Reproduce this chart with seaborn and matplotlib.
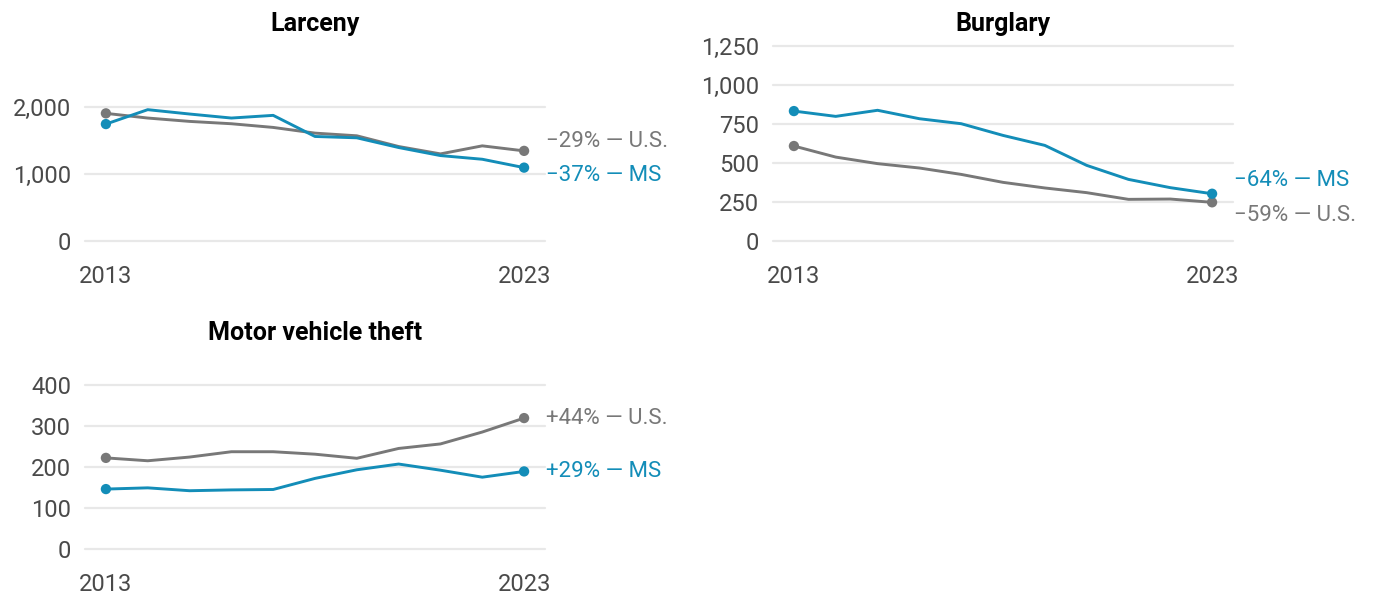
import matplotlib.pyplot as plt
import numpy as np
import pandas as pd
import seaborn as sns

years = list(range(2013, 2024))

# rates per 100,000
larceny_ms = [1745, 1960, 1895, 1835, 1875, 1560, 1540, 1395, 1275, 1220, 1095]
larceny_us = [1905, 1835, 1785, 1750, 1695, 1610, 1570, 1410, 1300, 1420, 1345]
burglary_ms = [833, 799, 838, 784, 752, 677, 613, 485, 395, 342, 303]
burglary_us = [609, 538, 496, 468, 427, 376, 340, 310, 267, 269, 248]
motor_ms = [146, 149, 142, 144, 145, 172, 193, 207, 192, 175, 189]
motor_us = [222, 215, 224, 237, 237, 231, 221, 245, 256, 285, 319]

larceny_ticks = [0, 1000, 2000]
burglary_ticks = [0, 250, 500, 750, 1000, 1250]
motor_ticks = [0, 100, 200, 300, 400]

sns.set_theme(style="white")
plt.rcParams['font.family'] = ['Roboto', 'DejaVu Sans']

BLUE = "#138db8"
GRAY = "#787878"
W, H = 1377, 595

def px_rect(x0, y0, x1, y1):
    return [x0 / W, 1 - y1 / H, (x1 - x0) / W, (y1 - y0) / H]

fig = plt.figure(figsize=(W / 100, H / 100), dpi=100)

# title, ms, us, ticks, ymax, rect, (nudge ms, nudge us) in pixels
panels = [
    ("Larceny", larceny_ms, larceny_us, larceny_ticks, 2940, (85, 44, 545, 241), (-8, 9)),
    ("Burglary", burglary_ms, burglary_us, burglary_ticks, 1263, (773, 44, 1233, 241), (13, -13)),
    ("Motor vehicle theft", motor_ms, motor_us, motor_ticks, 480, (85, 352, 545, 549), (0, 0)),
]

for title, ms, us, ticks, ymax, rect, nudge in panels:
    ax = fig.add_axes(px_rect(*rect))
    df = pd.DataFrame({"year": years * 2, "rate": us + ms,
                       "area": ["U.S."] * len(years) + ["MS"] * len(years)})
    sns.lineplot(data=df, x="year", y="rate", hue="area",
                 palette={"U.S.": GRAY, "MS": BLUE}, linewidth=2.1,
                 legend=False, ax=ax, zorder=3)
    ends = df[df["year"].isin([years[0], years[-1]])]
    sns.scatterplot(data=ends, x="year", y="rate", hue="area",
                    palette={"U.S.": GRAY, "MS": BLUE}, s=55, linewidth=0,
                    legend=False, ax=ax, zorder=4)

    ax.set_xlim(2012.5, 2023.5)
    ax.set_ylim(0, ymax)
    ax.set_yticks(ticks)
    ax.set_yticklabels([f"{t:,}" for t in ticks])
    ax.set_xticks([2013, 2023])
    ax.set_xticklabels(["2013", "2023"])
    ax.grid(axis="y", color="#e8e8e8", linewidth=1.6)
    for gl in ax.get_ygridlines():
        gl.set_clip_on(False)
    ax.set_axisbelow(True)
    for sp in ax.spines.values():
        sp.set_visible(False)
    ax.tick_params(axis="y", length=0, pad=10, labelsize=17, labelcolor="#4a4a4a")
    ax.tick_params(axis="x", length=9, width=1.5, color="#d4d4d4", pad=8,
                   labelsize=17, labelcolor="#4a4a4a")
    ax.set_xlabel("")
    ax.set_ylabel("")
    ax.set_title(title, fontsize=18, fontweight="bold", color="black", pad=9)

    for vals, name, color, dy in [(ms, "MS", BLUE, nudge[0]), (us, "U.S.", GRAY, nudge[1])]:
        pct = round((vals[-1] / vals[0] - 1) * 100)
        sign = "+" if pct > 0 else "\u2212"
        ax.annotate(f"{sign}{abs(pct)}% \u2014 {name}", xy=(years[-1], vals[-1]),
                    xytext=(22, dy), textcoords="offset pixels", va="center",
                    ha="left", fontsize=16, color=color, annotation_clip=False)

fig.savefig("out.png", dpi=100)
